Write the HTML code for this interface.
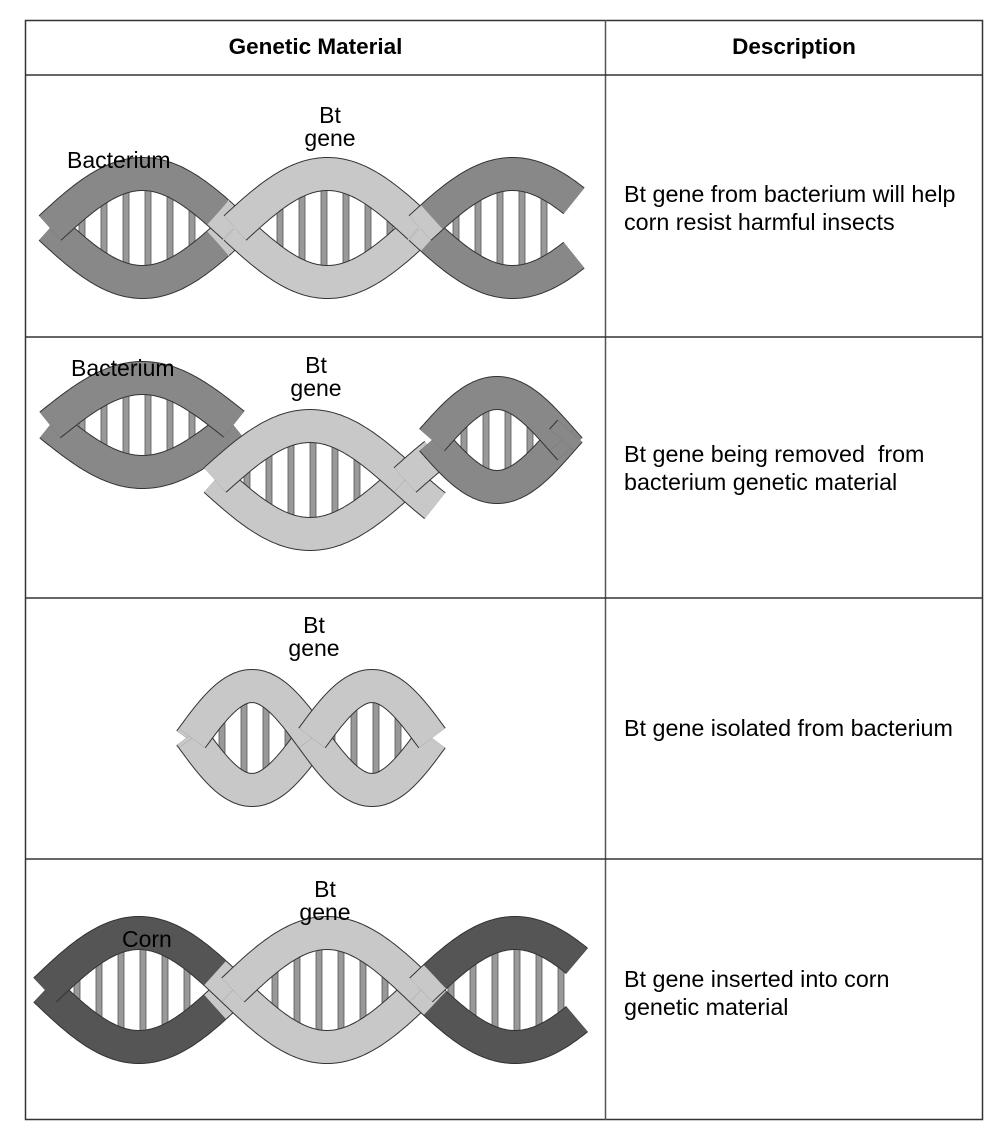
<!DOCTYPE html>
<html><head><meta charset="utf-8"><style>
body{margin:0;background:#fff;width:1004px;height:1136px;overflow:hidden;font-family:"Liberation Sans",Arial,sans-serif;}
.t{position:absolute;font-size:23.3px;color:#000;line-height:28px;white-space:nowrap;}
.h{font-weight:bold;text-align:center;font-size:22.5px;}
.l{position:absolute;font-size:23px;text-align:center;line-height:23px;white-space:nowrap;}
svg{position:absolute;left:0;top:0;}
</style></head><body>
<svg id="s" width="1004" height="1136">
<rect x="25.5" y="20.5" width="957" height="1099" fill="none" stroke="#333" stroke-width="1.5"/>
<line x1="605.5" y1="20" x2="605.5" y2="1120" stroke="#555" stroke-width="1.5"/>
<line x1="25" y1="75" x2="982" y2="75" stroke="#333" stroke-width="1.5"/>
<line x1="25" y1="337" x2="982" y2="337" stroke="#333" stroke-width="1.5"/>
<line x1="25" y1="598" x2="982" y2="598" stroke="#333" stroke-width="1.5"/>
<line x1="25" y1="859" x2="982" y2="859" stroke="#333" stroke-width="1.5"/>
<g id="g"></g>
</svg>
<div class="t h" style="left:26px;top:33px;width:579px">Genetic Material</div>
<div class="t h" style="left:606px;top:33px;width:376px">Description</div>
<div class="t" style="left:624px;top:180px">Bt gene from bacterium will help<br>corn resist harmful insects</div>
<div class="t" style="left:624px;top:440px">Bt gene being removed&nbsp; from<br>bacterium genetic material</div>
<div class="t" style="left:624px;top:714px">Bt gene isolated from bacterium</div>
<div class="t" style="left:624px;top:965px">Bt gene inserted into corn<br>genetic material</div>
<div class="l" style="left:67px;top:149px">Bacterium</div>
<div class="l" style="left:295px;top:104px;width:70px">Bt<br>gene</div>
<div class="l" style="left:71px;top:357px">Bacterium</div>
<div class="l" style="left:281px;top:354px;width:70px">Bt<br>gene</div>
<div class="l" style="left:279px;top:614px;width:70px">Bt<br>gene</div>
<div class="l" style="left:122px;top:928px">Corn</div>
<div class="l" style="left:290px;top:878px;width:70px">Bt<br>gene</div>
<script>
var g=document.getElementById('g'),NS='http://www.w3.org/2000/svg';
function el(n,a){var e=document.createElementNS(NS,n);for(var k in a)e.setAttribute(k,a[k]);g.appendChild(e);return e;}
function helix(x0,x1,cy,A,x00,hp,col,lx0,lx1,w){
  w=w||32;
  function y(s,x){var t=Math.PI*(x-x00)/hp;return cy+(s?1:-1)*A*Math.sin(t);}
  for(var x=x0+10;x<x1-10;x+=22){
    var t=Math.PI*(x-x00)/hp,d=Math.abs(A*Math.sin(t));
    if(d>A*0.45){el('rect',{x:x-3,y:cy-d+w/2-2,width:6,height:2*d-w+4,fill:'#999',stroke:'#555','stroke-width':0.8});}
  }
  function piece(s,a,b){
    var bounds=[a];[lx0,lx1].forEach(function(v){if(v>a&&v<b)bounds.push(v);});bounds.push(b);
    var ps=[];
    for(var i=0;i<bounds.length-1;i++){
      var pa=bounds[i],pb=bounds[i+1],pts=[];
      for(var x=pa;x<=pb+0.01;x+=2)pts.push(x.toFixed(1)+','+y(s,x).toFixed(1));
      var mid=(pa+pb)/2,c=(mid>lx0&&mid<lx1)?'#c8c8c8':col;
      ps.push(['M'+pts.join(' L'),c]);
    }
    ps.forEach(function(p){el('path',{d:p[0],fill:'none',stroke:'#333','stroke-width':w+2,'stroke-linecap':'butt'});});
    ps.forEach(function(p){el('path',{d:p[0],fill:'none',stroke:p[1],'stroke-width':w,'stroke-linecap':'butt'});});
  }
  var k0=Math.floor((x0-x00)/hp),k1=Math.ceil((x1-x00)/hp);
  var segs=[];
  for(var k=k0;k<k1;k++){var a=Math.max(x0,x00+k*hp),b=Math.min(x1,x00+(k+1)*hp);if(b>a)segs.push([k,a,b]);}
  segs.forEach(function(s){piece((s[0]+1)%2==0?0:1,s[1],s[2]);});
  segs.forEach(function(s){piece((s[0]%2+2)%2==0?0:1,s[1],s[2]);});
}
helix(50,575,228,54,50,185,'#888',218,432);
helix(50,235,425,47,50,185,'#888',-1,-1);
helix(215,435,480,54,215,190,'#888',0,1000);
helix(432,570,440,47,432,130,'#888',-1,-1);
helix(190,432,738,52,192,120,'#c8c8c8',0,1000);
helix(45,578,990,57,45,188,'#555',215,435);
</script>
</body></html>
